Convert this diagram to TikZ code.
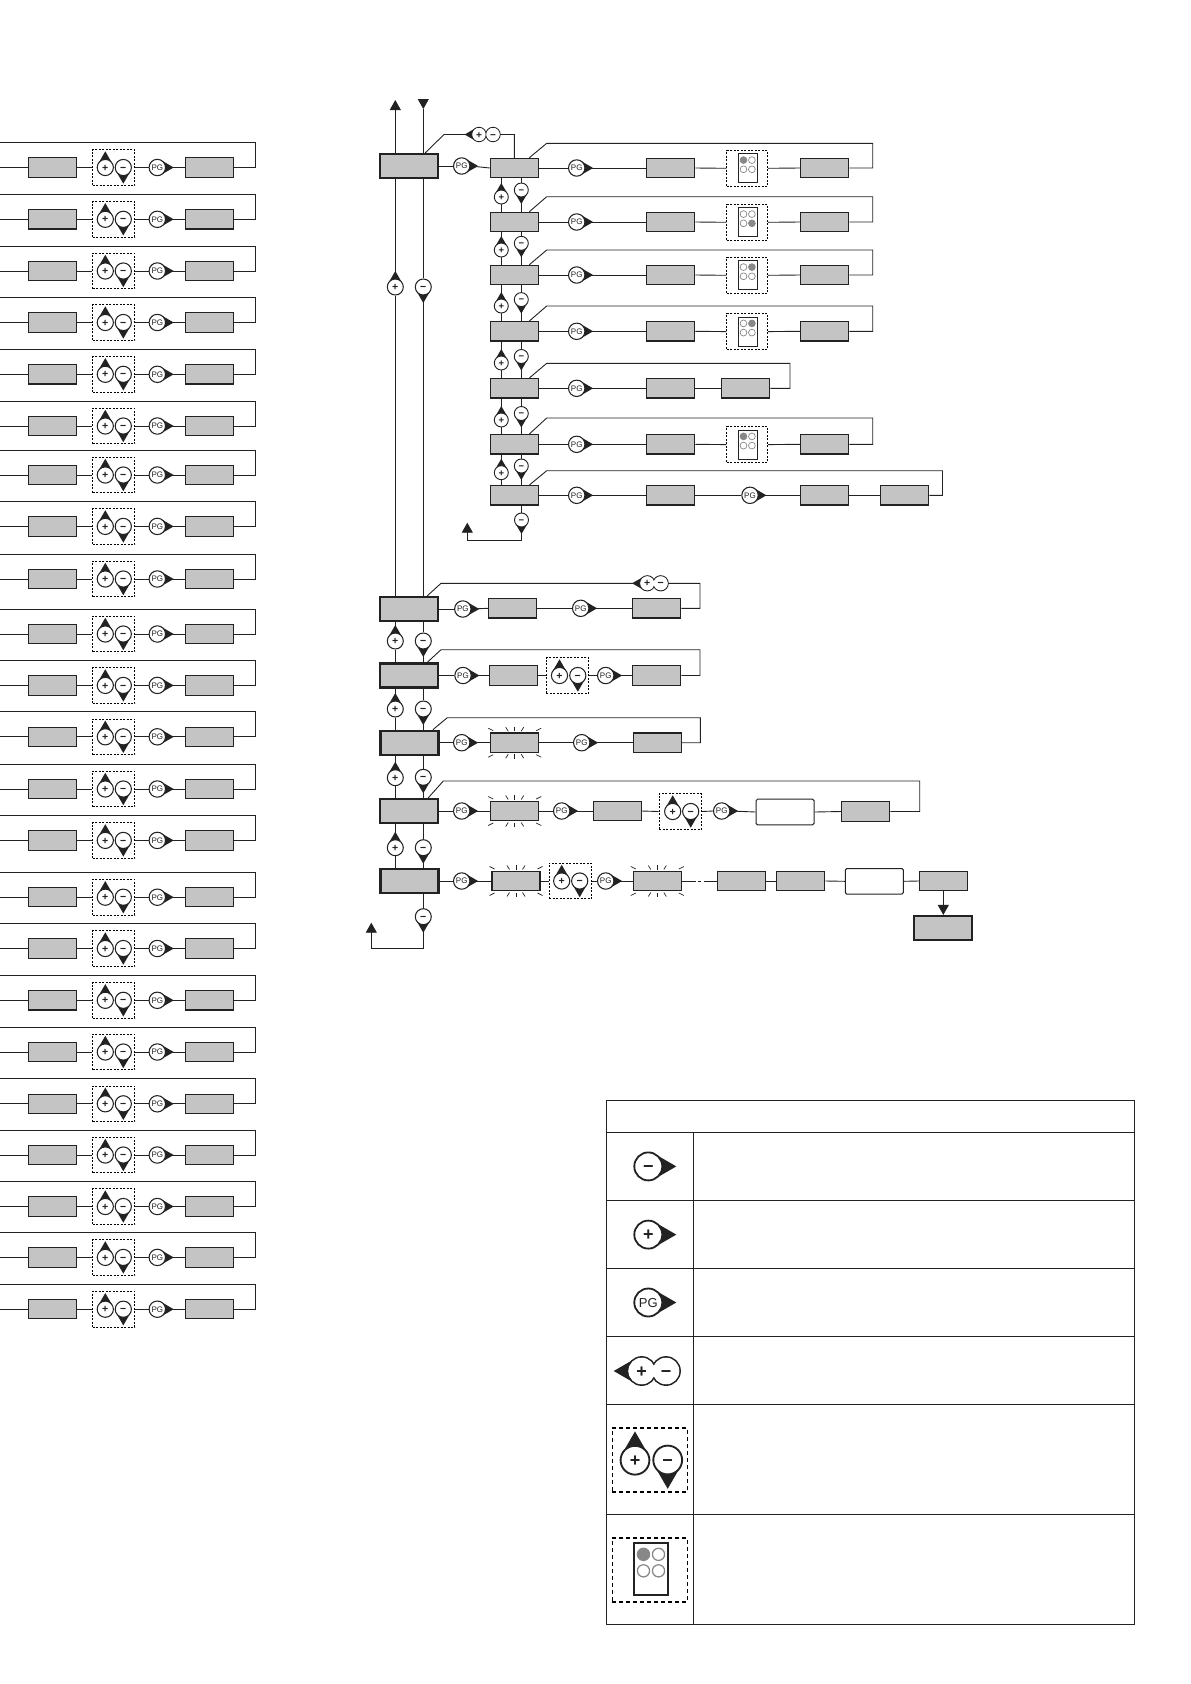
\documentclass[tikz,border=0pt]{standalone}
\usepackage{fontspec}
\setmainfont{Liberation Sans}
\usetikzlibrary{arrows.meta}
\definecolor{boxg}{HTML}{C4C4C4}
\definecolor{ink}{HTML}{222222}
\definecolor{dotg}{HTML}{888888}
\newcommand{\fsz}[1]{\fontsize{#1}{#1}\selectfont}
\newcommand{\sgn}[1]{\raisebox{-.35em}[0pt][0pt]{#1}}
\newcommand{\plusg}{\textbf{+}}
\newcommand{\minusg}{\textbf{−}}
\tikzset{
  x=1pt,y=-1pt,
  every path/.style={line width=0.9pt},
  gbox/.style={draw=ink,fill=boxg,line width=1.1pt,minimum width=48pt,minimum height=19.4pt,inner sep=0pt},
  bigbox/.style={draw=ink,fill=boxg,line width=2.2pt,minimum width=58pt,minimum height=24pt,inner sep=0pt},
  wbox/.style={draw=ink,fill=white,line width=1pt,rounded corners=1.5pt,minimum width=58pt,minimum height=25.6pt,inner sep=0pt},
  dashbox/.style={draw=black,line width=0.9pt,dash pattern=on 2pt off 1.5pt,minimum width=42.4pt,minimum height=35.5pt,inner sep=0pt},
  legdash/.style={draw=black,line width=1.2pt,dash pattern=on 4pt off 3pt,minimum width=75pt,minimum height=64pt,inner sep=0pt},
  remotebox/.style={draw=ink,fill=white,line width=1pt,inner sep=0pt},
  symb/.style={circle,draw=ink,fill=white,inner sep=0pt},
  tipfill/.style={fill=ink,draw=none},
  ray/.style={line width=0.7pt,draw=ink},
  tiparrow/.style={-{Triangle[length=10pt,width=11pt]}},
  tabline/.style={line width=1pt,draw=ink},
}
% name, x, y, text, direction, radius, fontsize
\newcommand{\sym}[7]{%
  \fill[tipfill,shift={(#2,#3)}] (#5:2*#6) -- (#5+60:#6) -- (#5-60:#6) -- cycle;
  \node[symb,line width=#6*0.13pt,minimum size=2*#6 pt,font=\fsz{#7}] (#1) at (#2,#3) {\sgn{#4}};}
% name, x1, x2, y, radius, fontsize
\newcommand{\pmsym}[6]{%
  \fill[tipfill,shift={(#2,#4)}] (180:2*#5) -- (240:#5) -- (120:#5) -- cycle;
  \node[symb,line width=#5*0.13pt,minimum size=2*#5 pt] (#1p) at (#2,#4) {};
  \node[symb,line width=#5*0.13pt,minimum size=2*#5 pt] (#1m) at (#3,#4) {};
  \node[circle,fill=white,inner sep=0pt,minimum size=2*#5 pt-1.4pt,font=\fsz{#6}] (#1pt) at (#2,#4) {\sgn{\plusg}};
  \node[circle,fill=white,inner sep=0pt,minimum size=2*#5 pt-1.4pt,font=\fsz{#6}] (#1mt) at (#3,#4) {\sgn{\minusg}};}
\newcommand{\gb}[3]{\node[gbox] (#1) at (#2,#3) {};}
\newcommand{\pg}[3]{\sym{#1}{#2}{#3}{PG}{0}{8.2}{8}}
% name, plus x, minus x, y
\newcommand{\dpm}[5]{%
  \node[dashbox] (#1) at (#2,#3) {};
  \sym{#1p}{#4}{#3}{\plusg}{270}{8.1}{10.5}
  \sym{#1m}{#5}{#3}{\minusg}{90}{8.1}{10.5}}
% start box, dx, x2, top y, right x, end box
\newcommand{\loopl}[6]{\draw[color=ink] ([xshift=#2pt]#1.north) -- (#3,#4) -- (#5,#4) |- (#6.east);}
% flash rays around a box
\newcommand{\flash}[1]{%
  \foreach \s in {1,-1}{
    \begin{scope}[shift={(#1.center)}]
    \draw[ray] (-26.5,-14.5*\s) -- (-21.5,-12*\s);
    \draw[ray] (-9,-15.5*\s) -- (-6.5,-11.5*\s);
    \draw[ray] (0,-16*\s) -- (0,-11.5*\s);
    \draw[ray] (9,-15.5*\s) -- (6.5,-11.5*\s);
    \draw[ray] (26.5,-14.5*\s) -- (21.5,-12*\s);
    \end{scope}}}
% remote: name, x, y, scale, active (tl,tr,bl,br)
\newcommand{\remote}[5]{%
  \node[remotebox,minimum width=#4*19pt,minimum height=#4*29pt,line width=#4*0.9pt] (#1) at (#2,#3) {};
  \begin{scope}[shift={(#1.center)}]
    \foreach \dx/\dy/\k in {-4.2/-8.3/tl,4.2/-8.3/tr,-4.2/0.9/bl,4.2/0.9/br}{
      \edef\act{#5}\edef\cur{\k}
      \ifx\act\cur
        \fill[fill=dotg,draw=dotg,line width=#4*0.7pt] (#4*\dx,#4*\dy) circle[radius=#4*3.4pt];
      \else
        \draw[draw=dotg,fill=white,line width=#4*0.7pt] (#4*\dx,#4*\dy) circle[radius=#4*3.4pt];
      \fi}
  \end{scope}}
% upper box, lower box, plus x, plus y, minus x, minus y, radius, font
\newcommand{\updown}[8]{%
  \sym{#1#2p}{#3}{#4}{\plusg}{270}{#7}{#8}
  \sym{#1#2m}{#5}{#6}{\minusg}{90}{#7}{#8}
  \draw (#1.south -| #1#2p.north) -- (#1#2p.north);
  \draw (#1#2p.south) -- (#1#2p.south |- #2.north);
  \draw (#1.south -| #1#2m.north) -- (#1#2m.north);
  \draw (#1#2m.south) -- (#1#2m.south |- #2.north);}
% left column row
\newcommand{\lrow}[2]{%
  \coordinate (ls#1) at (0,#2);
  \coordinate (lt#1) at (0,#2-25);
  \gb{lra#1}{52.7}{#2}
  \dpm{lrd#1}{113.7}{#2}{105.3}{123.3}
  \pg{lrp#1}{157.3}{#2}
  \gb{lrb#1}{209.5}{#2}
  \draw (ls#1) -- (lra#1.west);
  \draw (lra#1.east) -- (lrd#1.west);
  \draw (lrd#1.east) -- (lrp#1.west);
  \draw (lrp#1.east) -- (lrb#1.west);
  \draw (lt#1) -- (255.7,#2-25) |- (lrb#1.east);}
% sub row with remote: index, y, top y, active
\newcommand{\subrow}[4]{%
  \pg{sp#1}{576.7}{#2}
  \gb{sb#1}{670.7}{#2}
  \node[dashbox,minimum width=41pt] (sd#1) at (747.2,#2+0.3) {};
  \remote{sr#1}{747.7}{#2+0.4}{1}{#4}
  \gb{sc#1}{824.7}{#2}
  \draw (s#1.east) -- (sp#1.west);
  \draw (sp#1.east) -- (sb#1.west);
  \draw (sb#1.east) -- (sd#1.west);
  \draw (sd#1.east) -- (sc#1.west);
  \loopl{s#1}{15}{546.7}{#3}{872.7}{sc#1}}
\begin{document}
\begin{tikzpicture}[color=ink]
\useasboundingbox (0,0) rectangle (1191,1684);
% ---------- left column
\foreach \yy [count=\i] in {167.5,219.3,271,322.5,374.3,426,475,526.4,579,634,685.4,736.8,789,840.4,897.2,948.5,1000.3,1052,1103.8,1155,1206.5,1257.4,1309.2}{
  \lrow{\i}{\yy}
}
% ---------- centre column, upper part
\node[bigbox] (A) at (409.2,166) {};
\foreach \n/\yy in {1/168,2/222,3/275,4/331.3,5/388.3,6/444.3,7/495.3}{
  \gb{s\n}{514.3}{\yy}
}
\pg{ap}{461.7}{166}
\draw (A.east) -- (ap.west);
\draw (ap.east) -- (s1.west);
\draw ([xshift=16pt]A.north) -- (444,134.5) -- (514.3,134.5) -- (s1.north);
\pmsym{apm}{479}{493}{134.5}{7.2}{10}
\subrow{1}{168}{143.3}{tl}
\subrow{2}{222}{196.7}{br}
\subrow{3}{275}{250}{tr}
\subrow{4}{331.3}{306}{tr}
\subrow{6}{444.3}{418}{tl}
% row 5
\pg{sp5}{576.7}{388.3}
\gb{sb5}{670.7}{388.3}
\gb{sc5}{745.7}{388.3}
\draw (s5.east) -- (sp5.west);
\draw (sp5.east) -- (sb5.west);
\draw (sb5.east) -- (sc5.west);
\loopl{s5}{15}{546.7}{363.3}{790}{sc5}
% row 7
\pg{sp7}{576.7}{495.3}
\gb{sb7}{670.7}{495.3}
\pg{sq7}{750}{495.3}
\gb{sc7}{824.7}{495.3}
\gb{sd7}{904.7}{495.3}
\draw (s7.east) -- (sp7.west);
\draw (sp7.east) -- (sb7.west);
\draw (sb7.east) -- (sq7.west);
\draw (sq7.east) -- (sc7.west);
\draw (sc7.east) -- (sd7.west);
\loopl{s7}{15}{546.7}{470.7}{942.5}{sd7}
% sub column plus/minus
\updown{s1}{s2}{501.3}{197}{521.3}{190}{7}{9.5}
\updown{s2}{s3}{501.3}{250}{521.3}{243.3}{7}{9.5}
\updown{s3}{s4}{501.3}{306}{521.3}{299.6}{7}{9.5}
\updown{s4}{s5}{501.3}{363}{521.3}{356.5}{7}{9.5}
\updown{s5}{s6}{501.3}{420}{521.3}{413.5}{7}{9.5}
\updown{s6}{s7}{501.3}{472.7}{521.3}{466}{7}{9.5}
% sub column exit
\sym{sx}{521.5}{520}{\minusg}{90}{7}{9.5}
\coordinate (sxa) at (521.5,540);
\coordinate (sxb) at (467.3,540);
\coordinate (sxc) at (467.3,522.7);
\draw (s7.south -| sx.north) -- (sx.north);
\draw[tiparrow] (sx.south) -- (sxa) -- (sxb) -- (sxc);
% ---------- centre column, big boxes
\node[bigbox] (B1) at (409.2,609) {};
\node[bigbox] (B2) at (409.2,675.5) {};
\node[bigbox] (B3) at (409.5,742.7) {};
\node[bigbox] (B4) at (409.2,811) {};
\node[bigbox] (B5) at (409.5,881) {};
% long verticals and top arrows
\coordinate (upend) at (395.3,100);
\coordinate (dnstart) at (423.3,99);
\coordinate (dnend) at (423.3,109);
\sym{ua}{395.3}{287}{\plusg}{270}{8}{10.5}
\sym{da}{423.3}{287}{\minusg}{90}{8}{10.5}
\draw[tiparrow] (A.north -| upend) -- (upend);
\draw[tiparrow] (dnstart) -- (dnend);
\draw (dnend) -- (A.north -| dnend);
\draw (A.south -| ua.north) -- (ua.north);
\draw (ua.south) -- (ua.south |- B1.north);
\draw (A.south -| da.north) -- (da.north);
\draw (da.south) -- (da.south |- B1.north);
\updown{B1}{B2}{395.3}{641}{423.3}{641}{8}{10.5}
\updown{B2}{B3}{395.3}{709}{423.3}{709}{8}{10.5}
\updown{B3}{B4}{395.3}{777.7}{423.3}{777.3}{8}{10.5}
\updown{B4}{B5}{395.3}{847.7}{423.3}{847.7}{8}{10.5}
% B5 exit
\sym{bx}{423.3}{916.7}{\minusg}{90}{8}{10.5}
\coordinate (bxa) at (423.3,948.3);
\coordinate (bxb) at (371.3,948.3);
\coordinate (bxc) at (371.3,922.7);
\draw (B5.south -| bx.north) -- (bx.north);
\draw[tiparrow] (bx.south) -- (bxa) -- (bxb) -- (bxc);
% row B1
\pg{b1p}{462.8}{609}
\gb{b1a}{512.3}{608.3}
\pg{b1q}{580.7}{608.3}
\gb{b1b}{656.7}{608.3}
\draw (B1.east) -- (b1p.west);
\draw (b1p.east) -- (b1a.west);
\draw (b1a.east) -- (b1q.west);
\draw (b1q.east) -- (b1b.west);
\loopl{B1}{18}{441}{583.3}{700}{b1b}
\pmsym{b1s}{647.3}{660.7}{583.3}{7.6}{10.5}
% row B2
\pg{b2p}{463}{675.5}
\gb{b2a}{513.7}{675.5}
\dpm{b2d}{567.5}{675.5}{559.5}{577.8}
\pg{b2q}{605.7}{675.5}
\gb{b2b}{656.7}{675.5}
\draw (B2.east) -- (b2p.west);
\draw (b2p.east) -- (b2a.west);
\draw (b2a.east) -- (b2d.west);
\draw (b2d.east) -- (b2q.west);
\draw (b2q.east) -- (b2b.west);
\loopl{B2}{18}{441}{649.7}{700}{b2b}
% row B3
\pg{b3p}{461.7}{742.7}
\gb{b3a}{514.7}{742.7}
\flash{b3a}
\pg{b3q}{581.7}{742.7}
\gb{b3b}{657.2}{742.7}
\draw (B3.east) -- (b3p.west);
\draw (b3p.east) -- (b3a.west);
\draw (b3a.east) -- (b3q.west);
\draw (b3q.east) -- (b3b.west);
\loopl{B3}{23.5}{447.3}{717.7}{700.3}{b3b}
% row B4
\pg{b4p}{461.7}{811}
\gb{b4a}{514.7}{811}
\flash{b4a}
\pg{b4q}{561.7}{811}
\gb{b4b}{617.2}{811}
\dpm{b4d}{680.3}{811.5}{672.7}{690.7}
\pg{b4r}{721.7}{811}
\node[wbox] (b4w) at (785,812) {};
\gb{b4c}{865.7}{811.5}
\draw (B4.east) -- (b4p.west);
\draw (b4p.east) -- (b4a.west);
\draw (b4a.east) -- (b4q.west);
\draw (b4q.east) -- (b4b.west);
\draw (b4b.east) -- (b4d.west);
\draw (b4d.east) -- (b4r.west);
\draw (b4r.east) -- (b4w.west);
\draw (b4w.east) -- (b4c.west);
\loopl{B4}{19}{443.3}{781}{919.7}{b4c}
% row B5
\pg{b5p}{461.7}{881}
\gb{b5a}{516}{881}
\flash{b5a}
\dpm{b5d}{570.2}{881}{561.7}{579.7}
\pg{b5q}{605.7}{881}
\gb{b5b}{657.3}{881}
\flash{b5b}
\gb{b5c}{741.7}{881}
\gb{b5e}{800.7}{881}
\node[wbox] (b5w) at (874.3,881.3) {};
\gb{b5f}{943.3}{881}
\node[bigbox] (E) at (943.3,928) {};
\draw (B5.east) -- (b5p.west);
\draw (b5p.east) -- (b5a.west);
\draw (b5a.east) -- (b5d.west);
\draw (b5d.east) -- (b5q.west);
\draw (b5q.east) -- (b5b.west);
\draw[dash pattern=on 14pt off 2pt on 3pt off 3pt on 20pt] (b5b.east) -- (b5c.west);
\draw (b5c.east) -- (b5e.west);
\draw (b5e.east) -- (b5w.west);
\draw (b5w.east) -- (b5f.west);
\draw[tiparrow] (b5f.south) -- (E.north);
% ---------- legend table
\draw[tabline] (606.7,1100.3) rectangle (1134,1624.4);
\foreach \yy in {1132.4,1200.2,1268.4,1336.2,1404,1514.2}{
  \draw[tabline] (606.7,\yy) -- (1134,\yy);
}
\draw[tabline] (693.7,1132.4) -- (693.7,1624.4);
\sym{lg1}{648.3}{1166.4}{\minusg}{0}{14}{18}
\sym{lg2}{648.3}{1234.6}{\plusg}{0}{14}{18}
\sym{lg3}{648.3}{1302.5}{PG}{0}{14}{13}
\pmsym{lg4}{641.7}{666}{1371}{14}{18}
\node[legdash] (lg5) at (649.8,1460) {};
\sym{lg5p}{635}{1460.2}{\plusg}{270}{14.4}{18}
\sym{lg5m}{667.7}{1460}{\minusg}{90}{14.4}{18}
\node[legdash] (lg6) at (649.8,1569.9) {};
\remote{lg6r}{651}{1569.2}{1.79}{tl}
\end{tikzpicture}
\end{document}
